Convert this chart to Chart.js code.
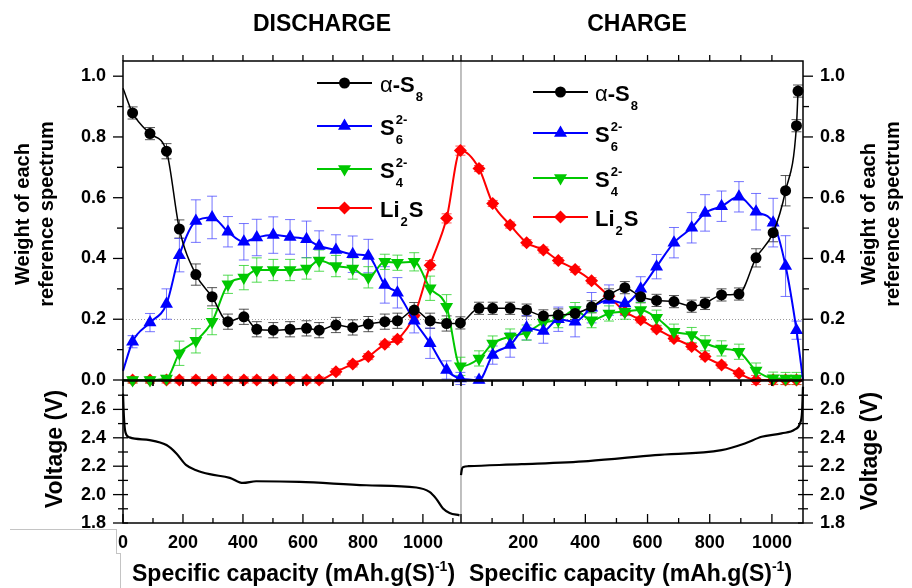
<!DOCTYPE html>
<html>
<head>
<meta charset="utf-8">
<script src="https://cdn.jsdelivr.net/npm/chart.js@4.4.0/dist/chart.umd.min.js"></script>
<style>
  body { margin: 0; background: #fff; font-family: "Liberation Sans", Arial, sans-serif; }
  #wrap { position: relative; width: 912px; height: 588px; overflow: hidden; background: #fff; }
  canvas { position: absolute; left: 0; }
  .lbl { position: absolute; font-weight: bold; color: #000; white-space: nowrap; line-height: 23px; }
  .rot { transform: translate(-50%, -50%) rotate(-90deg); text-align: center; }
  .lbl sup { font-size: 14px; position: relative; top: -10px; vertical-align: baseline; line-height: 0; }
  .edge { position: absolute; border-top: 1px solid #c4c4c4; border-right: 1px solid #c4c4c4; }
</style>
</head>
<body>
<div id="wrap">
  <canvas id="weights" width="912" height="410" style="top:0px"></canvas>
  <canvas id="voltage" width="912" height="237" style="top:351px"></canvas>

  <div class="lbl" style="left:322px;top:12px;font-size:23px;transform:translateX(-50%)">DISCHARGE</div>
  <div class="lbl" style="left:637px;top:12px;font-size:23px;transform:translateX(-50%)">CHARGE</div>

  <div class="lbl rot" style="left:34px;top:214px;font-size:20px;line-height:24px">Weight of each<br>reference spectrum</div>
  <div class="lbl rot" style="left:880px;top:214px;font-size:20px;line-height:24px">Weight of each<br>reference spectrum</div>
  <div class="lbl rot" style="left:54px;top:449px;font-size:23px">Voltage (V)</div>
  <div class="lbl rot" style="left:869px;top:451px;font-size:23px">Voltage (V)</div>

  <div class="lbl" style="left:132px;top:562px;font-size:23px">Specific capacity (mAh.g(S)<sup>-1</sup>)</div>
  <div class="lbl" style="left:469px;top:562px;font-size:23px">Specific capacity (mAh.g(S)<sup>-1</sup>)</div>

  <div class="edge" style="left:10px;top:529px;width:106px;height:24px"></div>
  <div class="edge" style="left:116px;top:553px;width:4px;height:40px"></div>
</div>

<script>
// ---------- discharge half (mAh/g) ----------
const dischargeX = [0, 32, 90, 145, 188, 243, 297, 350, 403, 446, 501, 557, 612, 654, 710, 766, 818, 873, 915, 971, 1024, 1079, 1125];
const s8Dis  = [0.96, 0.879, 0.811, 0.753, 0.497, 0.347, 0.274, 0.192, 0.208, 0.167, 0.164, 0.167, 0.170, 0.164, 0.181, 0.173, 0.184, 0.192, 0.195, 0.230, 0.195, 0.186, 0.188];
const s6Dis  = [0.03, 0.126, 0.189, 0.25, 0.411, 0.523, 0.535, 0.488, 0.455, 0.469, 0.477, 0.471, 0.463, 0.441, 0.428, 0.414, 0.408, 0.313, 0.287, 0.195, 0.121, 0.033, 0.005];
const s4Dis  = [0, 0, 0, 0.005, 0.088, 0.129, 0.192, 0.315, 0.337, 0.362, 0.362, 0.362, 0.367, 0.393, 0.375, 0.367, 0.338, 0.389, 0.386, 0.389, 0.302, 0.241, 0.045];
const li2sDis = [0, 0, 0, 0, 0, 0, 0, 0, 0, 0, 0, 0, 0, 0, 0.027, 0.053, 0.077, 0.118, 0.134, 0.212, 0.378, 0.532, 0.755];

const s8DisErr  = [0, 0.02, 0.02, 0.025, 0.03, 0.035, 0.03, 0.025, 0.025, 0.025, 0.025, 0.025, 0.025, 0.025, 0.025, 0.025, 0.025, 0.025, 0.025, 0.025, 0.025, 0.025, 0.02];
const s6DisErr  = [0, 0.02, 0.03, 0.05, 0.055, 0.07, 0.07, 0.05, 0.06, 0.06, 0.06, 0.057, 0.06, 0.05, 0.05, 0.06, 0.055, 0.06, 0.05, 0.04, 0.05, 0.03, 0.02];
const s4DisErr  = [0, 0.01, 0.01, 0.01, 0.04, 0.04, 0.043, 0.03, 0.04, 0.04, 0.035, 0.035, 0.035, 0.035, 0.035, 0.035, 0.035, 0.025, 0.025, 0.03, 0.04, 0.04, 0.03];
const li2sDisErr = [0, 0.01, 0.01, 0.01, 0.01, 0.01, 0.01, 0.01, 0.01, 0.01, 0.01, 0.01, 0.01, 0.01, 0.01, 0.01, 0.01, 0.01, 0.01, 0.015, 0.015, 0.015, 0.015];

// ---------- charge half (mAh/g) ----------
const chargeX = [58, 102, 158, 211, 265, 313, 367, 420, 476, 527, 578, 629, 685, 742, 785, 838, 894, 949, 1004, 1044, 1079];
const s8ChargeX = [...chargeX, 1084];
const s6ChargeX = [...chargeX, 1100];
const s8Ch  = [0.236, 0.236, 0.236, 0.230, 0.211, 0.214, 0.219, 0.241, 0.280, 0.304, 0.274, 0.262, 0.258, 0.243, 0.252, 0.280, 0.283, 0.402, 0.485, 0.623, 0.837, 0.951];
const s6Ch  = [0.0, 0.082, 0.115, 0.172, 0.161, 0.200, 0.192, 0.238, 0.263, 0.252, 0.300, 0.373, 0.452, 0.501, 0.550, 0.572, 0.603, 0.554, 0.518, 0.375, 0.164, 0.0];
const s4Ch  = [0.071, 0.12, 0.143, 0.156, 0.189, 0.197, 0.23, 0.197, 0.219, 0.225, 0.23, 0.205, 0.159, 0.148, 0.121, 0.104, 0.093, 0.031, 0.006, 0.005, 0.005];
const li2sCh = [0.696, 0.581, 0.510, 0.452, 0.428, 0.393, 0.364, 0.327, 0.276, 0.225, 0.198, 0.168, 0.137, 0.11, 0.077, 0.049, 0.022, 0, 0, 0, 0];

const s8ChErr  = [0.02, 0.02, 0.02, 0.02, 0.02, 0.02, 0.02, 0.02, 0.02, 0.02, 0.02, 0.02, 0.02, 0.02, 0.02, 0.02, 0.02, 0.03, 0.03, 0.05, 0.02, 0.02];
const s6ChErr  = [0.01, 0.03, 0.04, 0.04, 0.04, 0.04, 0.05, 0.05, 0.05, 0.04, 0.04, 0.04, 0.05, 0.05, 0.06, 0.05, 0.05, 0.06, 0.08, 0.1, 0.03, 0];
const s4ChErr  = [0.025, 0.025, 0.025, 0.025, 0.025, 0.025, 0.025, 0.025, 0.025, 0.025, 0.025, 0.025, 0.025, 0.025, 0.025, 0.025, 0.025, 0.025, 0.02, 0.02, 0.02];
const li2sChErr = [0.01, 0.01, 0.01, 0.01, 0.01, 0.01, 0.01, 0.01, 0.01, 0.01, 0.01, 0.01, 0.01, 0.01, 0.01, 0.01, 0.01, 0.015, 0.015, 0.015, 0.015];

// ---------- voltage profiles ----------
const vDisX = [0, 3, 8, 22, 89, 145, 178, 211, 244, 289, 356, 400, 444, 589, 811, 978, 1022, 1044, 1067, 1089, 1122];
const vDis  = [2.71, 2.55, 2.44, 2.403, 2.384, 2.349, 2.29, 2.207, 2.172, 2.144, 2.118, 2.082, 2.094, 2.09, 2.066, 2.05, 2.019, 1.972, 1.902, 1.871, 1.854];
const vChX  = [0, 3, 8, 24, 195, 409, 624, 838, 913, 967, 1031, 1074, 1090, 1097, 1100];
const vCh   = [2.137, 2.18, 2.195, 2.2, 2.214, 2.236, 2.278, 2.313, 2.36, 2.407, 2.431, 2.459, 2.5, 2.584, 2.76];

// ---------- ticks ----------
const weightTicks = [0, 0.2, 0.4, 0.6, 0.8, 1.0];
const voltTicks = [1.8, 2.0, 2.2, 2.4, 2.6];
const disTickLabels = [0, 200, 400, 600, 800, 1000];
const chTickLabels = [200, 400, 600, 800, 1000];
const disMarks = [0, 100, 200, 300, 400, 500, 600, 700, 800, 900, 1000, 1100];
const chMarks = [0, 100, 200, 300, 400, 500, 600, 700, 800, 900, 1000];

// both halves share one x scale: charge starts where discharge ends,
// and its mAh are drawn a bit wider (as in the original figure)
const DIS_LEN = 1127;
const CH_K = 1.0367;
function chX(c) { return DIS_LEN + c * CH_K; }
const X_MAX = chX(1100);

const FONT = '"Liberation Sans", Arial, sans-serif';
Chart.defaults.font.family = FONT;
Chart.defaults.color = '#000';

function pts(dx, dy, cx, cy) {
  return dx.map((x, i) => ({x: x, y: dy[i]})).concat(cx.map((x, i) => ({x: chX(x), y: cy[i]})));
}

const species = [
  {label: [{t: 'α', light: true}, {t: '-S'}, {sub: '8'}], data: pts(dischargeX, s8Dis, s8ChargeX, s8Ch),
   err: s8DisErr.concat(s8ChErr), color: '#000000', errColor: 'rgba(40,40,40,0.8)', style: 'circle', rot: 0, r: 5.5, lw: 1.5, hide: [0]},
  {label: [{t: 'S'}, {sup: '2-', sub: '6'}], data: pts(dischargeX, s6Dis, s6ChargeX, s6Ch),
   err: s6DisErr.concat(s6ChErr), color: '#0000ff', errColor: 'rgba(70,70,255,0.75)', style: 'triangle', rot: 0, r: 7.5, lw: 2, hide: [0, 44]},
  {label: [{t: 'S'}, {sup: '2-', sub: '4'}], data: pts(dischargeX, s4Dis, chargeX, s4Ch),
   err: s4DisErr.concat(s4ChErr), color: '#00c800', errColor: 'rgba(40,210,40,0.8)', style: 'triangle', rot: 180, r: 7.5, lw: 2, hide: [0]},
  {label: [{t: 'Li'}, {sub: '2'}, {t: 'S'}], data: pts(dischargeX, li2sDis, chargeX, li2sCh),
   err: li2sDisErr.concat(li2sChErr), color: '#ff0000', errColor: 'rgba(255,40,40,0.8)', style: 'rectRot', rot: 0, r: 6.5, lw: 2, hide: [0]}
];

function line(ctx, x1, y1, x2, y2) {
  ctx.beginPath(); ctx.moveTo(x1, y1); ctx.lineTo(x2, y2); ctx.stroke();
}

function marker(ctx, s, x, y) {
  ctx.save();
  ctx.fillStyle = s.color;
  ctx.translate(x, y);
  ctx.rotate(s.rot * Math.PI / 180);
  ctx.beginPath();
  const r = s.r;
  if (s.style === 'circle') ctx.arc(0, 0, r, 0, Math.PI * 2);
  else if (s.style === 'triangle') {
    ctx.moveTo(0, -r); ctx.lineTo(r * 0.866, r * 0.5); ctx.lineTo(-r * 0.866, r * 0.5);
  } else {
    ctx.moveTo(0, -r); ctx.lineTo(r, 0); ctx.lineTo(0, r); ctx.lineTo(-r, 0);
  }
  ctx.closePath();
  ctx.fill();
  ctx.restore();
}

function drawLabel(ctx, parts, x, base) {
  ctx.fillStyle = '#000';
  ctx.textBaseline = 'alphabetic';
  ctx.textAlign = 'left';
  parts.forEach(p => {
    if (p.t) {
      ctx.font = (p.light ? '' : 'bold ') + '22px ' + FONT;
      ctx.fillText(p.t, x, base);
      x += ctx.measureText(p.t).width;
    } else {
      ctx.font = 'bold 13px ' + FONT;
      let w = 0;
      if (p.sup) { ctx.fillText(p.sup, x + 1, base - 11); w = ctx.measureText(p.sup).width; }
      if (p.sub) { ctx.fillText(p.sub, x + 1, base + 9); w = Math.max(w, ctx.measureText(p.sub).width); }
      x += w + 2;
    }
  });
}

function drawLegend(ctx, lx, tx, rows) {
  species.forEach((s, i) => {
    const y = rows[i];
    ctx.strokeStyle = s.color;
    ctx.lineWidth = 2;
    line(ctx, lx, y, lx + 55, y);
    marker(ctx, s, lx + 27.5, y);
    drawLabel(ctx, s.label, tx, y + 9);
  });
}

function xMarks(ctx, xs, y, len, majorLen) {
  disMarks.forEach(v => {
    const p = xs.getPixelForValue(v);
    line(ctx, p, y, p, y + (majorLen && v % 200 === 0 ? majorLen : len));
  });
  chMarks.forEach(v => {
    const p = xs.getPixelForValue(chX(v));
    line(ctx, p, y, p, y + (majorLen && v % 200 === 0 ? majorLen : len));
  });
}

const weightsDecor = {
  id: 'weightsDecor',
  beforeDatasetsDraw(chart) {
    const {ctx, chartArea: a, scales: {x, y}} = chart;
    ctx.save();
    // dotted guide at 0.2
    ctx.strokeStyle = '#9a9a9a';
    ctx.lineWidth = 1;
    ctx.setLineDash([1, 2]);
    const g = Math.round(y.getPixelForValue(0.2)) + 0.5;
    line(ctx, a.left, g, a.right, g);
    ctx.setLineDash([]);
    // divider between discharge and charge
    ctx.strokeStyle = '#808080';
    const d = x.getPixelForValue(chX(0));
    line(ctx, d, a.top, d, a.bottom);
    // error bars
    chart.data.datasets.forEach((ds, i) => {
      const meta = chart.getDatasetMeta(i);
      ctx.strokeStyle = species[i].errColor;
      ctx.lineWidth = 1;
      meta.data.forEach((pt, j) => {
        const e = species[i].err[j];
        if (!e) return;
        const v = ds.data[j].y;
        const t = y.getPixelForValue(v + e), b = y.getPixelForValue(v - e);
        line(ctx, pt.x, t, pt.x, b);
        line(ctx, pt.x - 5, t, pt.x + 5, t);
        line(ctx, pt.x - 5, b, pt.x + 5, b);
      });
    });
    ctx.restore();
  },
  afterDraw(chart) {
    const {ctx, chartArea: a, scales: {x, y}} = chart;
    ctx.save();
    ctx.strokeStyle = '#000';
    ctx.lineWidth = 1.5;
    ctx.strokeRect(a.left, a.top, a.right - a.left, a.bottom - a.top);
    ctx.lineWidth = 1.3;
    xMarks(ctx, x, a.top, -6);
    xMarks(ctx, x, a.bottom, 6);
    for (let k = 0; k <= 10; k++) {
      const p = y.getPixelForValue(k / 10);
      const len = k % 2 === 0 ? 10 : 6;
      line(ctx, a.left - len, p, a.left, p);
      line(ctx, a.right, p, a.right + len, p);
    }
    drawLegend(ctx, 317, 380, [83, 126, 169, 208]);
    drawLegend(ctx, 533, 595, [92, 133, 178, 217]);
    ctx.restore();
  }
};

const voltDecor = {
  id: 'voltDecor',
  beforeDatasetsDraw(chart) {
    const {ctx, chartArea: a, scales: {x}} = chart;
    ctx.save();
    ctx.strokeStyle = '#808080';
    ctx.lineWidth = 1;
    const d = x.getPixelForValue(chX(0));
    line(ctx, d, a.top, d, a.bottom);
    ctx.restore();
  },
  afterDraw(chart) {
    const {ctx, chartArea: a, scales: {x, y}} = chart;
    ctx.save();
    ctx.strokeStyle = '#000';
    ctx.lineWidth = 1.5;
    ctx.strokeRect(a.left, a.top, a.right - a.left, a.bottom - a.top);
    ctx.lineWidth = 1.3;
    xMarks(ctx, x, a.top, 5);
    xMarks(ctx, x, a.bottom, -5, -9);
    for (let k = 0; k < 10; k++) {
      const p = y.getPixelForValue(1.8 + k / 10);
      const out = k % 2 === 0 ? 10 : 5;
      line(ctx, a.left - out, p, a.left + 5, p);
      line(ctx, a.right - 5, p, a.right + out, p);
    }
    ctx.restore();
  }
};

const tickFont = {size: 18, weight: 'bold'};

function yAxis(pos, min, max, vals, width) {
  return {
    position: pos, min: min, max: max,
    afterBuildTicks: s => { s.ticks = vals.map(v => ({value: v})); },
    ticks: {callback: v => v.toFixed(1), padding: 17, font: tickFont, color: '#000'},
    grid: {display: false, drawTicks: false},
    border: {display: false},
    afterFit: s => { s.width = width; }
  };
}

// the y-axis label padding asks for ~28px above/below the plot,
// so both canvases leave at least that much room there
new Chart(document.getElementById('weights'), {
  type: 'line',
  data: {
    datasets: species.map(s => ({
      data: s.data,
      borderColor: s.color,
      backgroundColor: s.color,
      borderWidth: s.lw,
      pointStyle: s.style,
      pointRotation: s.rot,
      pointRadius: s.data.map((p, j) => s.hide.includes(j) ? 0 : s.r),
      pointBorderWidth: 0,
      cubicInterpolationMode: 'monotone',
      clip: false
    }))
  },
  options: {
    responsive: false,
    animation: false,
    layout: {autoPadding: false, padding: {top: 61, bottom: 30, left: 0, right: 0}},
    plugins: {legend: {display: false}, tooltip: {enabled: false}},
    scales: {
      x: {type: 'linear', display: false, min: 0, max: X_MAX},
      y: yAxis('left', 0, 1.05, weightTicks, 123),
      y2: yAxis('right', 0, 1.05, weightTicks, 109)
    }
  },
  plugins: [weightsDecor]
});

const xTickPos = disTickLabels.concat(chTickLabels.map(chX));
const xTickText = disTickLabels.concat(chTickLabels).map(String);

new Chart(document.getElementById('voltage'), {
  type: 'line',
  data: {
    datasets: [
      {data: vDisX.map((x, i) => ({x: x, y: vDis[i]}))},
      {data: vChX.map((x, i) => ({x: chX(x), y: vCh[i]}))}
    ].map(d => Object.assign(d, {
      borderColor: '#000', borderWidth: 2.2, pointRadius: 0,
      cubicInterpolationMode: 'monotone', clip: false
    }))
  },
  options: {
    responsive: false,
    animation: false,
    layout: {autoPadding: false, padding: {top: 30, bottom: 0, left: 0, right: 0}},
    plugins: {legend: {display: false}, tooltip: {enabled: false}},
    scales: {
      x: {
        type: 'linear', min: 0, max: X_MAX,
        afterBuildTicks: s => { s.ticks = xTickPos.map(v => ({value: v})); },
        ticks: {callback: (v, i) => xTickText[i], padding: 9, maxRotation: 0, autoSkip: false, font: tickFont, color: '#000'},
        grid: {display: false, drawTicks: false},
        border: {display: false},
        afterFit: s => { s.height = 65; }
      },
      y: yAxis('left', 1.8, 2.8, voltTicks, 123),
      y2: yAxis('right', 1.8, 2.8, voltTicks, 109)
    }
  },
  plugins: [voltDecor]
});
</script>
</body>
</html>
